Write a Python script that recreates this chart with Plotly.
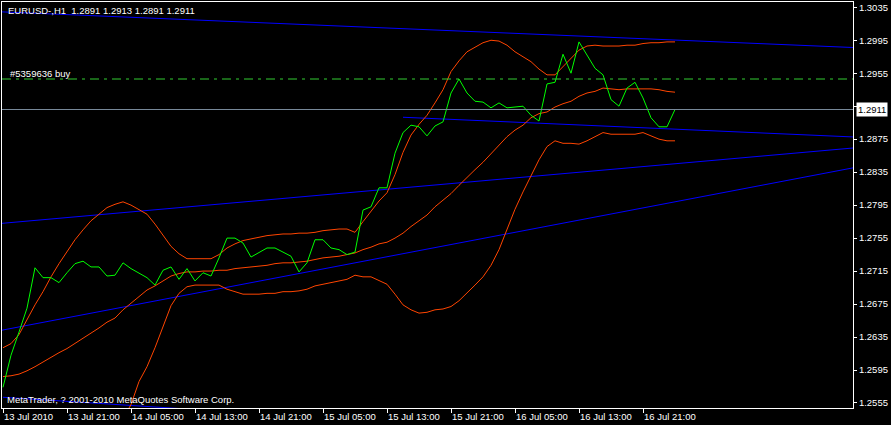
import plotly.graph_objects as go

# ---- data (hourly bars EURUSD H1, index 0 = 13 Jul 2010 13:00) ----
close_px = [1.2574, 1.2613, 1.2641, 1.2670, 1.2719, 1.2707, 1.2707, 1.2701, 1.2713, 1.2724,
            1.2727, 1.2720, 1.2720, 1.2709, 1.2710, 1.2725, 1.2718, 1.2713, 1.2707, 1.2698,
            1.2716, 1.2720, 1.2705, 1.2718, 1.2703, 1.2713, 1.2709, 1.2731, 1.2755, 1.2755,
            1.2749, 1.2732, 1.2737, 1.2743, 1.2743, 1.2738, 1.2733, 1.2714, 1.2725, 1.2753,
            1.2753, 1.2743, 1.2741, 1.2735, 1.2738, 1.2789, 1.2793, 1.2816, 1.2816, 1.2858,
            1.2883, 1.2892, 1.2890, 1.2879, 1.2891, 1.2896, 1.2931, 1.2948, 1.2931, 1.2921,
            1.2920, 1.2913, 1.2919, 1.2913, 1.2914, 1.2915, 1.2904, 1.2897, 1.2942, 1.2944,
            1.2978, 1.2955, 1.2993, 1.2977, 1.2961, 1.2953, 1.2923, 1.2915, 1.2937, 1.2944,
            1.2925, 1.2901, 1.2890, 1.2890, 1.2911]

bb_upper = [1.2622, 1.2627, 1.2638, 1.2656, 1.2674, 1.2690, 1.2708, 1.2724, 1.2738, 1.2753,
            1.2765, 1.2776, 1.2784, 1.2792, 1.2796, 1.2799, 1.2795, 1.2790, 1.2784, 1.2772,
            1.2759, 1.2745, 1.2736, 1.2730, 1.2730, 1.2730, 1.2730, 1.2735, 1.2743, 1.2748,
            1.2752, 1.2754, 1.2756, 1.2758, 1.2759, 1.2760, 1.2760, 1.2761, 1.2761, 1.2762,
            1.2764, 1.2765, 1.2766, 1.2766, 1.2762, 1.2775, 1.2787, 1.2800, 1.2810, 1.2832,
            1.2859, 1.2880, 1.2893, 1.2904, 1.2919, 1.2935, 1.2957, 1.2970, 1.2981, 1.2987,
            1.2992, 1.2995, 1.2994, 1.2989, 1.2981, 1.2975, 1.2969, 1.2960, 1.2953, 1.2953,
            1.2963, 1.2974, 1.2983, 1.2988, 1.2989, 1.2988, 1.2988, 1.2988, 1.2989, 1.2989,
            1.2991, 1.2992, 1.2992, 1.2993, 1.2993]

bb_middle = [1.2587, 1.2588, 1.2590, 1.2594, 1.2599, 1.2605, 1.2610, 1.2616, 1.2621, 1.2627,
             1.2634, 1.2640, 1.2646, 1.2653, 1.2658, 1.2668, 1.2676, 1.2685, 1.2692, 1.2697,
             1.2703, 1.2709, 1.2712, 1.2714, 1.2714, 1.2715, 1.2715, 1.2716, 1.2716, 1.2718,
             1.2719, 1.2720, 1.2721, 1.2722, 1.2724, 1.2725, 1.2725, 1.2726, 1.2727, 1.2729,
             1.2731, 1.2732, 1.2733, 1.2735, 1.2737, 1.2741, 1.2744, 1.2748, 1.2750, 1.2755,
             1.2761, 1.2769, 1.2776, 1.2783, 1.2793, 1.2801, 1.2809, 1.2819, 1.2829, 1.2838,
             1.2847, 1.2857, 1.2867, 1.2878, 1.2886, 1.2892, 1.2901, 1.2906, 1.2908, 1.2914,
             1.2918, 1.2921, 1.2927, 1.2931, 1.2933, 1.2937, 1.2936, 1.2935, 1.2936, 1.2936,
             1.2936, 1.2936, 1.2935, 1.2933, 1.2932]

bb_lower = [1.2547, 1.2544, 1.2543, 1.2532, 1.2524, 1.2520, 1.2511, 1.2508, 1.2503, 1.2500,
            1.2503, 1.2504, 1.2508, 1.2515, 1.2520, 1.2537, 1.2553, 1.2581, 1.2599, 1.2622,
            1.2647, 1.2673, 1.2688, 1.2696, 1.2698, 1.2698, 1.2698, 1.2698, 1.2693, 1.2690,
            1.2687, 1.2687, 1.2687, 1.2688, 1.2688, 1.2690, 1.2690, 1.2691, 1.2693, 1.2697,
            1.2699, 1.2701, 1.2703, 1.2705, 1.2710, 1.2708, 1.2708, 1.2703, 1.2699, 1.2687,
            1.2674, 1.2668, 1.2664, 1.2665, 1.2668, 1.2669, 1.2672, 1.2679, 1.2688, 1.2698,
            1.2708, 1.2722, 1.2741, 1.2765, 1.2790, 1.2811, 1.2830, 1.2850, 1.2866, 1.2873,
            1.2870, 1.2870, 1.2869, 1.2873, 1.2878, 1.2883, 1.2881, 1.2881, 1.2881, 1.2881,
            1.2883, 1.2879, 1.2875, 1.2873, 1.2873]

# trendlines: (bar index, price) endpoints
trend_a = ([-0.125, 106.25], [1.30294, 1.29862])
trend_b = ([50.0, 106.25], [1.29016, 1.28777])
trend_c = ([-0.125, 106.25], [1.27729, 1.28643])
trend_d = ([-0.125, 106.25], [1.26433, 1.28402])
trend_e = ([0.0, 106.25], [1.25619, 1.24961])

buy_price = 1.2948
last_price = 1.2911
title_text = "EURUSD-,H1\u00a0\u00a01.2891 1.2913 1.2891 1.2911"
order_label = "#5359636 buy"
copyright_text = "MetaTrader, ? 2001-2010 MetaQuotes Software Corp."

price_ticks = [1.3035, 1.2995, 1.2955, 1.2915, 1.2875, 1.2835, 1.2795, 1.2755,
               1.2715, 1.2675, 1.2635, 1.2595, 1.2555]
price_tick_labels = ["1.3035", "1.2995", "1.2955", "", "1.2875", "1.2835", "1.2795",
                     "1.2755", "1.2715", "1.2675", "1.2635", "1.2595", "1.2555"]
time_tick_idx = [0, 8, 16, 24, 32, 40, 48, 56, 64, 72, 80]
time_tick_labels = ["13 Jul 2010", "13 Jul 21:00", "14 Jul 05:00", "14 Jul 13:00",
                    "14 Jul 21:00", "15 Jul 05:00", "15 Jul 13:00", "15 Jul 21:00",
                    "16 Jul 05:00", "16 Jul 13:00", "16 Jul 21:00"]

bars = list(range(len(close_px)))

FONT = "Liberation Sans, Arial, sans-serif"
ORANGE = "#FF4500"
BLUE = "#0000FF"

fig = go.Figure()

for tl in (trend_a, trend_b, trend_c, trend_d, trend_e):
    fig.add_trace(go.Scatter(x=tl[0], y=tl[1], mode="lines",
                             line=dict(color=BLUE, width=1), hoverinfo="skip"))

for band in (bb_upper, bb_middle, bb_lower):
    fig.add_trace(go.Scatter(x=bars, y=band, mode="lines",
                             line=dict(color=ORANGE, width=1), hoverinfo="skip"))

fig.add_trace(go.Scatter(x=bars, y=close_px, mode="lines",
                         line=dict(color="#00FF00", width=1), hoverinfo="skip"))

# horizontal lines
fig.add_shape(type="line", xref="paper", x0=0, x1=1, yref="y", y0=last_price, y1=last_price,
              line=dict(color="#778899", width=1))
fig.add_shape(type="line", xref="paper", x0=0, x1=1, yref="y", y0=buy_price, y1=buy_price,
              line=dict(color="#32CD32", width=1, dash="9px,5px,3px,5px"))

fig.add_annotation(xref="paper", yref="paper", x=0.005, y=0.98, xanchor="left", yanchor="middle",
                   text=title_text, showarrow=False, font=dict(family=FONT, size=9.5, color="white"))
fig.add_annotation(xref="paper", yref="y", x=0.007, y=buy_price, xanchor="left", yanchor="bottom",
                   yshift=-2, text=order_label, showarrow=False,
                   font=dict(family=FONT, size=9.5, color="white"))
fig.add_annotation(xref="paper", yref="paper", x=0.003, y=0.02, xanchor="left", yanchor="middle",
                   text=copyright_text, showarrow=False,
                   font=dict(family=FONT, size=9.5, color="white"))
fig.add_annotation(xref="paper", yref="y", x=1, y=last_price, xanchor="left", yanchor="middle",
                   xshift=3, text=f"{last_price:.4f}", showarrow=False, bgcolor="white",
                   borderpad=1, font=dict(family=FONT, size=9.5, color="black"))

fig.update_layout(
    width=891, height=425,
    margin=dict(l=2, r=38, t=2, b=17),
    paper_bgcolor="black", plot_bgcolor="black",
    showlegend=False,
    hovermode=False,
    xaxis=dict(range=[-0.125, 106.25], showgrid=False, zeroline=False,
               showline=True, mirror=True, linecolor="white", linewidth=1,
               tickmode="array", tickvals=time_tick_idx, ticktext=time_tick_labels,
               ticks="outside", ticklen=4, tickcolor="white",
               ticklabelposition="outside right",
               tickfont=dict(family=FONT, size=9.5, color="white")),
    yaxis=dict(range=[1.25489, 1.30414], side="right", showgrid=False, zeroline=False,
               showline=True, mirror=True, linecolor="white", linewidth=1,
               tickmode="array", tickvals=price_ticks, ticktext=price_tick_labels,
               ticks="outside", ticklen=3, tickcolor="white",
               tickfont=dict(family=FONT, size=9.5, color="white")),
)

fig.write_html("out.html", config={"displayModeBar": False},
               post_script="document.body.style.margin='0';document.body.style.background='black';")
